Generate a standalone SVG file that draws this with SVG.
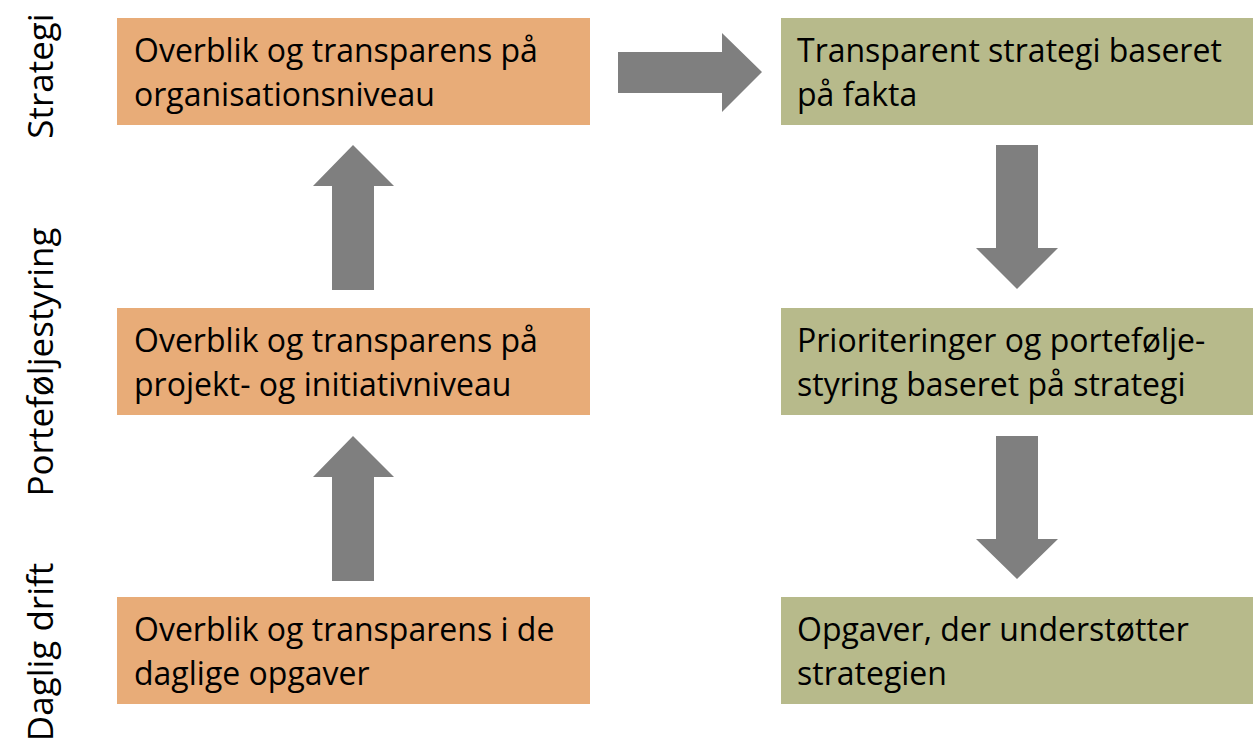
<svg xmlns="http://www.w3.org/2000/svg" width="1255" height="755" viewBox="0 0 1255 755">
<style>
.o{fill:#E8AC78}
.g{fill:#B7BA8B}
.a{fill:#7F7F7F}
text{font-family:"Open Sans","Liberation Sans",sans-serif;font-size:32px;fill:#000}
.l{font-size:35px}
</style>
<rect width="1255" height="755" fill="#fff"/>
<g id="labels">
<text class="l" transform="translate(53,76) rotate(-90)" text-anchor="middle">Strategi</text>
<text class="l" transform="translate(53,362) rotate(-90)" text-anchor="middle">Porteføljestyring</text>
<text class="l" transform="translate(53,652) rotate(-90)" text-anchor="middle">Daglig drift</text>
</g>
<g id="n1"><rect class="o" x="117" y="18" width="473" height="107"/><text x="134" y="62">Overblik og transparens på</text><text x="134" y="106">organisationsniveau</text></g>
<g id="n2"><rect class="o" x="117" y="308" width="473" height="107"/><text x="134" y="352">Overblik og transparens på</text><text x="134" y="396">projekt- og initiativniveau</text></g>
<g id="n3"><rect class="o" x="117" y="597" width="473" height="107"/><text x="134" y="641">Overblik og transparens i de</text><text x="134" y="685">daglige opgaver</text></g>
<g id="n4"><rect class="g" x="781" y="18" width="472" height="107"/><text x="797" y="62">Transparent strategi baseret</text><text x="797" y="106">på fakta</text></g>
<g id="n5"><rect class="g" x="781" y="308" width="472" height="107"/><text x="797" y="352">Prioriteringer og portefølje-</text><text x="797" y="396">styring baseret på strategi</text></g>
<g id="n6"><rect class="g" x="781" y="597" width="472" height="107"/><text x="797" y="641">Opgaver, der understøtter</text><text x="797" y="685">strategien</text></g>
<g id="connectors">
<polygon class="a" points="618,52 722,52 722,33 762,72 722,112 722,93 618,93"/>
<polygon class="a" points="332,290 332,186 313,186 353,145 394,186 374,186 374,290"/>
<polygon class="a" points="332,581 332,477 313,477 353,436 394,477 374,477 374,581"/>
<polygon class="a" points="996,145 1038,145 1038,248 1058,248 1017,289 976,248 996,248"/>
<polygon class="a" points="996,436 1038,436 1038,539 1058,539 1017,579 976,539 996,539"/>
</g>
</svg>
